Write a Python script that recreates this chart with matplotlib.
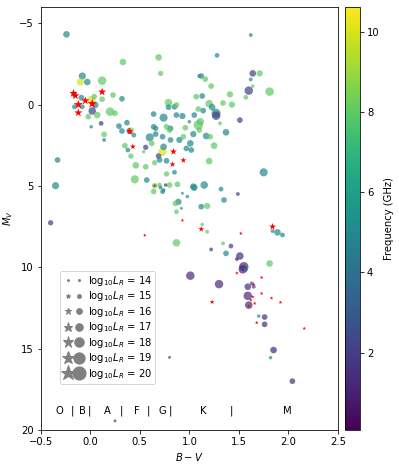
import numpy as np
import matplotlib
matplotlib.use("Agg")
import matplotlib.pyplot as plt
from matplotlib.lines import Line2D
from matplotlib.legend_handler import HandlerTuple
from matplotlib.colors import Normalize

# Circles: B-V, M_V, frequency (GHz), log10 L_R
circ_bv = [-0.24, 0.33, 0.69, 0.71, -0.08, -0.10, -0.03, 0.12, 1.10, -0.16, -0.09, 0.01, 0.04, 0.12,
           -0.16, -0.08, 0.02, 0.05, 0.07, -0.02, 0.11, 0.20, 0.25, 0.23, 0.32, 0.01, 0.14, 0.14,
           -0.33, -0.35, -0.40, 0.29, 0.32, 0.37, 0.40, 0.42, 0.44, 0.35, 0.38, 0.41, 0.46, 0.45,
           0.56, 0.54, 0.64, 0.74, 0.79, 0.85, 0.77, 0.81, 0.93, 0.96, 0.64, 0.60, 0.66, 0.73,
           0.62, 0.73, 0.69, 0.70, 0.77, 0.65, 0.56, 0.57, 0.77, 0.65, 0.64, 0.73, 0.70, 0.80,
           0.88, 0.76, 0.71, 0.74, 1.04, 1.15, 1.05,
           1.62, 1.28, 1.64, 1.71, 1.62, 1.12, 1.16, 1.22, 1.60, 1.81, 1.64, 1.57, 1.41, 1.13,
           1.07, 0.87, 0.79, 1.20, 1.23, 1.43, 1.34, 1.09, 1.27, 1.27, 0.87, 1.05, 1.14, 1.51,
           1.31, 1.09, 1.11, 1.00, 1.04, 1.10, 1.17, 1.21, 1.37, 1.25, 0.66, 0.80, 0.81, 0.90,
           0.94, 1.01, 1.02, 0.97, 0.74, 0.85, 1.20, 1.75, 1.32, 1.49, 0.98, 0.93,
           1.35, 0.89, 0.86, 0.92, 0.87, 1.12, 1.18, 1.13, 1.18, 0.87, 1.84, 1.89, 1.94, 1.34,
           1.42, 1.22, 1.37, 1.51, 1.48, 1.81, 1.55, 1.54, 1.57, 1.01, 1.30, 1.63, 1.65, 1.59,
           1.59, 1.60, 1.70, 1.76, 1.76, 1.85, 1.82, 2.04, 0.80, 0.25]
circ_mv = [-4.32, -2.62, -2.90, -1.92, -1.76, -1.39, -1.39, -1.47, -1.76, -0.63, -0.43, -0.28, -0.49, -0.33,
           0.13, 0.13, 0.39, 0.02, 0.64, 0.74, 1.15, 0.43, 0.53, -0.59, -0.36, 1.36, 1.83, 2.17,
           3.40, 4.98, 7.26, 1.32, 1.62, 1.11, 1.62, 1.55, 1.87, 2.52, 2.79, 3.16, 3.73, 4.59,
           2.62, 2.89, 0.58, 0.80, -0.12, 0.13, 1.36, 1.46, 0.70, 1.42, 1.36, 2.01, 1.81, 1.97,
           2.38, 2.89, 3.16, 3.40, 3.45, 3.57, 3.82, 4.63, 4.26, 4.98, 5.33, 5.35, 4.94, 4.94,
           4.90, 4.94, 5.10, 5.25, 5.04, 4.94, 5.10,
           -4.28, -3.03, -1.92, -1.92, -1.55, -1.76, -1.57, -1.14, -0.86, -0.80, -1.14, -0.45, -0.63, -0.53,
           -0.49, 0.02, 0.16, -0.06, 0.16, 0.00, -0.10, 0.27, 0.53, 0.68, 0.64, 0.64, 0.37, 0.95,
           1.15, 1.25, 1.05, 1.05, 1.81, 1.56, 1.93, 1.97, 1.70, 2.52, 1.46, 1.56, 2.17, 2.17,
           1.97, 2.38, 2.79, 2.69, 2.59, 4.16, 3.47, 4.16, 5.19, 5.49, 5.65, 5.45,
           5.86, 5.97, 6.07, 6.37, 6.58, 6.27, 6.23, 7.36, 7.81, 8.49, 7.77, 7.85, 8.01, 8.53,
           8.69, 8.90, 9.14, 9.30, 9.49, 9.76, 9.96, 10.12, 10.16, 10.51, 11.03, 10.99, 11.19, 11.19,
           11.75, 12.32, 12.99, 13.05, 13.50, 15.08, 15.55, 16.99, 15.53, 19.43]
circ_freq = [5, 8, 8, 8, 5, 10, 5, 8, 5, 5, 5, 10, 8, 8,
             5, 5, 2, 5, 8, 8, 2, 8, 8, 8, 5, 5, 8, 5,
             5, 5, 2, 5, 5, 5, 2, 10, 5, 8, 5, 8, 8, 8,
             2, 8, 5, 5, 8, 5, 8, 5, 5, 8, 5, 5, 5, 5,
             8, 10, 2, 5, 5, 8, 8, 5, 8, 8, 8, 5, 8, 8,
             8, 2, 5, 5, 5, 5, 5,
             5, 5, 2, 8, 5, 5, 8, 8, 2, 8, 8, 8, 8, 5,
             8, 8, 5, 8, 5, 8, 8, 8, 5, 2, 5, 5, 5, 2,
             8, 8, 8, 5, 5, 8, 5, 8, 5, 8, 5, 8, 5, 5,
             8, 5, 5, 5, 5, 5, 8, 5, 5, 2, 5, 5,
             5, 5, 8, 5, 8, 5, 8, 8, 8, 8, 5, 5, 5, 8,
             2, 2, 5, 1.5, 1.5, 8, 1.2, 1.2, 5, 1.3, 1.3, 2, 2, 1.5,
             1.3, 1.3, 5, 1.5, 1.5, 1.3, 5, 1.5, 2, 2]
circ_logL = [16.5, 16.5, 16.5, 15.8, 16.8, 16.8, 16.5, 17.5, 15.0, 16.0, 16.0, 17.5, 16.0, 16.0,
             15.5, 15.5, 17.0, 16.5, 16.5, 16.0, 15.5, 17.5, 16.0, 16.0, 16.0, 14.8, 16.0, 15.0,
             16.0, 16.8, 15.8, 16.0, 16.0, 16.0, 16.5, 15.5, 15.5, 16.0, 15.5, 15.8, 16.5, 17.3,
             15.8, 14.8, 16.0, 17.3, 17.0, 16.0, 16.0, 16.0, 16.3, 16.0, 16.0, 17.3, 16.0, 16.0,
             16.0, 17.5, 16.0, 16.0, 16.0, 15.8, 16.0, 16.0, 15.8, 15.8, 16.0, 15.5, 15.5, 16.0,
             16.0, 14.8, 15.0, 15.0, 16.5, 17.0, 16.5,
             15.0, 15.5, 16.5, 16.3, 15.0, 16.0, 16.0, 16.0, 17.5, 17.5, 14.8, 15.5, 16.3, 16.0,
             16.0, 16.0, 16.0, 17.0, 16.5, 16.3, 16.0, 16.0, 17.8, 17.5, 16.0, 16.0, 16.0, 16.0,
             15.0, 18.0, 17.0, 14.8, 16.3, 16.0, 16.5, 16.0, 16.5, 16.5, 15.8, 16.0, 16.0, 16.3,
             16.0, 16.5, 16.0, 16.0, 16.5, 15.5, 16.5, 17.3, 15.5, 15.0, 14.8, 14.5,
             16.0, 16.3, 16.0, 14.5, 15.5, 16.0, 16.3, 14.8, 15.0, 17.0, 15.0, 16.5, 15.5, 15.0,
             15.5, 15.0, 16.0, 17.0, 15.0, 16.5, 18.0, 17.5, 15.0, 17.5, 17.5, 15.0, 15.0, 16.5,
             17.5, 17.0, 14.8, 16.0, 16.0, 16.5, 14.8, 16.0, 14.5, 14.5]

# Red stars: B-V, M_V, log10 L_R
star_bv = [-0.17, -0.15, -0.12, -0.05, 0.02, 0.12, -0.12, 0.40, 0.43, 0.84, 0.83, 0.94, 0.65, 0.93,
           1.12, 1.52, 1.84, 0.55, 1.48, 1.73, 1.65, 1.73, 1.64, 1.62, 1.83, 1.23, 1.66, 1.60,
           1.92, 1.68, 2.16]
star_mv = [-0.70, -0.55, 0.00, -0.24, -0.06, -0.78, 0.50, 1.64, 2.58, 2.89, 3.67, 3.42, 4.98, 7.11,
           7.65, 7.91, 7.50, 8.03, 10.35, 10.62, 11.05, 11.60, 11.81, 12.01, 11.89, 12.13, 12.21, 12.38,
           12.15, 13.40, 13.75]
star_logL = [16.5, 16.5, 17.0, 16.5, 17.0, 16.5, 16.5, 16.0, 15.5, 16.0, 15.5, 15.5, 14.5, 14.5,
             15.5, 14.5, 16.0, 14.5, 14.5, 14.5, 14.5, 14.5, 14.5, 14.5, 14.5, 15.0, 14.5, 14.5,
             14.5, 14.5, 14.5]

legend_L = [14, 15, 16, 17, 18, 19, 20]
spec_labels = ["O", "|", "B", "|", "A", "|", "F", "|", "G", "|", "K", "|", "M"]
spec_pos = [-0.31, -0.18, -0.076, -0.01, 0.176, 0.317, 0.47, 0.586, 0.727, 0.81, 1.14, 1.42, 1.99]


def diam(L):
    return 2.0 + (np.asarray(L) - 14.0) * 1.85


fig = plt.figure(figsize=(399 / 72, 466 / 72), dpi=72)
ax = fig.add_axes([0.102, 0.077, 0.745, 0.908])
cax = fig.add_axes([0.865, 0.077, 0.037, 0.908])

norm = Normalize(vmin=0.07, vmax=10.62)
sc = ax.scatter(circ_bv, circ_mv, c=circ_freq, s=diam(circ_logL) ** 2, cmap="viridis",
                norm=norm, alpha=0.7, edgecolors="none", zorder=2)
ax.scatter(star_bv, star_mv, c="red", marker="*", s=(1.3 * diam(star_logL)) ** 2,
           edgecolors="none", zorder=3)

ax.set_xlim(-0.5, 2.5)
ax.set_ylim(20, -6)
ax.set_xlabel("$B-V$")
ax.set_ylabel("$M_V$")

for lab, xp in zip(spec_labels, spec_pos):
    ax.text(xp, 18.8, lab, ha="center", va="center", fontsize=10)

handles = []
labels = []
for L in legend_L:
    d = float(diam(L))
    h1 = Line2D([], [], marker="*", color="gray", linestyle="", markersize=d * 1.2)
    h2 = Line2D([], [], marker="o", color="gray", linestyle="", markersize=d)
    handles.append((h1, h2))
    labels.append(r"log$_{10}L_R$ = %d" % L)
ax.legend(handles, labels, handler_map={tuple: HandlerTuple(ndivide=None, pad=0.2)},
          loc="lower left", bbox_to_anchor=(0.065, 0.11), borderaxespad=0,
          handlelength=2.0, labelspacing=0.15, handletextpad=0.5, borderpad=0.3)

cb = fig.colorbar(plt.cm.ScalarMappable(norm=norm, cmap="viridis"), cax=cax)
cb.set_label("Frequency (GHz)")
cb.set_ticks([2, 4, 6, 8, 10])

fig.savefig("out.png", dpi=72)
